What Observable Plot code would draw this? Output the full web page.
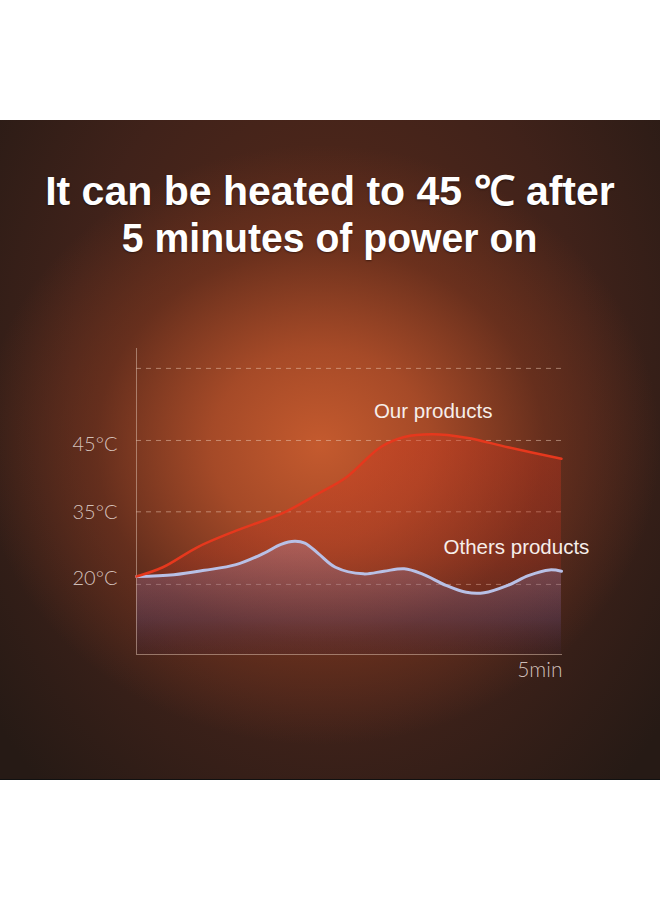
<!DOCTYPE html>
<html>
<head>
<meta charset="utf-8">
<script src="https://cdn.jsdelivr.net/npm/d3@7"></script>
<script src="https://cdn.jsdelivr.net/npm/@observablehq/plot@0.6"></script>
<style>
  html, body { margin: 0; padding: 0; background: #fff; }
  #page { position: relative; width: 660px; height: 900px; overflow: hidden; background: #fff; }
  #panel {
    position: absolute; left: 0; top: 120px; width: 660px; height: 659px;
    background:
      radial-gradient(ellipse 340px 300px at 320px 325px, rgba(196,90,46,1) 0%, rgba(180,80,42,0.85) 32%, rgba(135,58,32,0.5) 66%, rgba(90,40,25,0) 100%),
      radial-gradient(ellipse 430px 560px at 330px 250px, #5c2b1a 0%, #40221a 60%, #261a15 100%);
    border-bottom: 1px solid #111;
  }
  #title {
    position: absolute; left: 0; top: 168px; width: 660px; text-align: center;
    font-family: "Liberation Sans", Arial, sans-serif; font-weight: bold;
    font-size: 41px; line-height: 47px; color: #fff;
    text-shadow: 0 1px 2px rgba(0,0,0,0.45);
  }
  #title span { display: inline-block; white-space: nowrap; }
  #title .l2 { transform: scaleX(0.955); }
  #chart { position: absolute; left: 0; top: 0; }
</style>
</head>
<body>
<div id="page">
  <div id="panel"></div>
  <div id="title"><span class="l1">It can be heated to 45 ℃ after</span><br><span class="l2">5 minutes of power on</span></div>
  <div id="chart"></div>
</div>
<script>
// ---- data (minutes, °C) ----
const ourMinutes = [0, 0.31, 0.72, 1.13, 1.74, 2.14, 2.47, 2.87, 3.15, 3.48, 3.88, 4.37, 5];
const ourTemps   = [20, 22.1, 26.7, 30.1, 34.6, 37.5, 39.9, 44.3, 45.8, 46.2, 45.7, 44.3, 42.6];

const otherMinutes = [0, 0.44, 0.80, 1.17, 1.49, 1.70, 1.86, 1.98, 2.14, 2.34, 2.67, 2.91, 3.15, 3.36, 3.64, 3.88, 4.09, 4.37, 4.61, 4.86, 5];
const otherTemps   = [20, 20.4, 21.4, 22.7, 25.2, 27.3, 28.0, 27.6, 25.2, 22.1, 20.6, 21.2, 21.75, 20.6, 18.0, 16.4, 16.3, 18.0, 20.2, 21.5, 21.2];

const yTicks = [20, 35, 45];
const xTicks = [5];
const gridTemps = [18.2, 34.7, 45.3, 55.9];
const floorTemp = 2.3;

const seriesNames = ["Our products", "Others products"];
const labelMinutes = [3.49, 4.47];
const labelTemps = [49.6, 26.6];

// ---- tables ----
const ours = ourMinutes.map((m, i) => ({minute: m, temp: ourTemps[i]}));
const others = otherMinutes.map((m, i) => ({minute: m, temp: otherTemps[i]}));
const labels = seriesNames.map((n, i) => ({name: n, minute: labelMinutes[i], temp: labelTemps[i]}));

const defs = () => {
  const ns = "http://www.w3.org/2000/svg";
  const d = document.createElementNS(ns, "defs");
  d.innerHTML = `
    <linearGradient id="redFill" gradientUnits="userSpaceOnUse" x1="0" y1="430" x2="0" y2="654">
      <stop offset="0" stop-color="rgb(215,55,30)" stop-opacity="0.38"/>
      <stop offset="0.55" stop-color="rgb(190,50,32)" stop-opacity="0.28"/>
      <stop offset="1" stop-color="rgb(120,30,40)" stop-opacity="0.05"/>
    </linearGradient>
    <linearGradient id="blueFill" gradientUnits="userSpaceOnUse" x1="0" y1="540" x2="0" y2="654">
      <stop offset="0" stop-color="rgb(180,165,215)" stop-opacity="0.28"/>
      <stop offset="0.7" stop-color="rgb(85,75,120)" stop-opacity="0.32"/>
      <stop offset="1" stop-color="rgb(50,40,70)" stop-opacity="0.12"/>
    </linearGradient>`;
  return d;
};

const labelFont = "Lato, 'Noto Sans', sans-serif";
const labelFill = "rgba(225,212,206,0.9)";

const plot = Plot.plot({
  width: 660,
  height: 900,
  marginLeft: 136,
  marginRight: 99,
  marginTop: 348,
  marginBottom: 246,
  style: {background: "transparent", overflow: "visible"},
  x: {domain: [0, 5]},
  y: {type: "linear", domain: [20, 35, 45], range: [576, 510, 442]},
  marks: [
    defs,
    Plot.ruleY(gridTemps, {stroke: "rgba(235,205,185,0.5)", strokeWidth: 1, strokeDasharray: "5,5"}),
    Plot.areaY(ours, {x: "minute", y1: floorTemp, y2: "temp", curve: "catmull-rom", fill: "url(#redFill)"}),
    Plot.areaY(others, {x: "minute", y1: floorTemp, y2: "temp", curve: "catmull-rom", fill: "url(#blueFill)"}),
    Plot.ruleX([0], {stroke: "rgba(215,185,170,0.55)", strokeWidth: 1}),
    Plot.frame({anchor: "bottom", stroke: "rgba(215,185,170,0.55)", strokeWidth: 1}),
    Plot.line(others, {x: "minute", y: "temp", curve: "catmull-rom", stroke: "#b8c0e6", strokeWidth: 3}),
    Plot.line(ours, {x: "minute", y: "temp", curve: "catmull-rom", stroke: "#e6381d", strokeWidth: 2.5}),
    Plot.axisY({ticks: yTicks, tickFormat: d => `${d}°C`, tickSize: 0, tickPadding: 19, label: null,
      fontSize: 20, fontFamily: labelFont, fontWeight: 300, fill: labelFill, dy: 2}),
    Plot.axisX({ticks: xTicks, tickFormat: d => `${d}min`, tickSize: 0, tickPadding: 8, label: null, textAnchor: "end",
      fontSize: 21, fontFamily: labelFont, fontWeight: 300, fill: labelFill, dx: 1}),
    Plot.text(labels, {x: "minute", y: "temp", text: "name", fontSize: 20.5,
      fontFamily: "'Liberation Sans', Arial, sans-serif", fill: "#f6eeea"})
  ]
});
document.getElementById("chart").appendChild(plot);
</script>
</body>
</html>
